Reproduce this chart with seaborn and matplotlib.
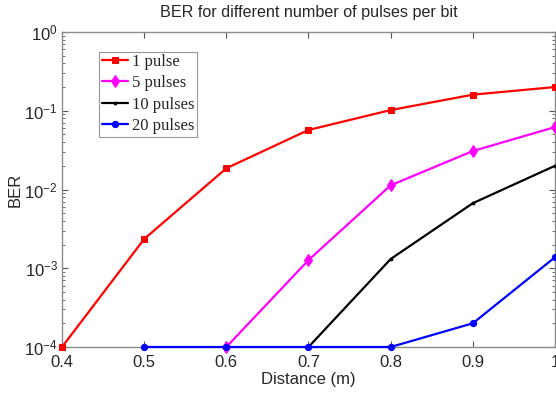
import matplotlib
matplotlib.use("Agg")
import matplotlib.pyplot as plt
import seaborn as sns
import pandas as pd
import numpy as np
from matplotlib.ticker import LogLocator, FixedLocator, FixedFormatter

distance = [0.4, 0.5, 0.6, 0.7, 0.8, 0.9, 1.0]
ber_1 = [1.0e-4, 2.35e-3, 1.86e-2, 5.7e-2, 1.02e-1, 1.6e-1, 2.0e-1]
dist_5 = [0.6, 0.7, 0.8, 0.9, 1.0]
ber_5 = [1.0e-4, 1.27e-3, 1.13e-2, 3.08e-2, 6.2e-2]
dist_10 = [0.7, 0.8, 0.9, 1.0]
ber_10 = [1.0e-4, 1.31e-3, 6.7e-3, 2.0e-2]
dist_20 = [0.5, 0.6, 0.7, 0.8, 0.9, 1.0]
ber_20 = [1.0e-4, 1.0e-4, 1.0e-4, 1.0e-4, 2.0e-4, 1.38e-3]
labels = ["1 pulse", "5 pulses", "10 pulses", "20 pulses"]
x_ticks = [0.4, 0.5, 0.6, 0.7, 0.8, 0.9, 1.0]
x_tick_labels = ["0.4", "0.5", "0.6", "0.7", "0.8", "0.9", "1"]

sns.set_style("white")
plt.rcParams['font.family'] = ['Liberation Sans', 'DejaVu Sans']
plt.rcParams['mathtext.default'] = 'regular'

df = pd.concat([
    pd.DataFrame({"Distance": distance, "BER": ber_1, "series": labels[0]}),
    pd.DataFrame({"Distance": dist_5, "BER": ber_5, "series": labels[1]}),
    pd.DataFrame({"Distance": dist_10, "BER": ber_10, "series": labels[2]}),
    pd.DataFrame({"Distance": dist_20, "BER": ber_20, "series": labels[3]}),
], ignore_index=True)

fig = plt.figure(figsize=(5.56, 3.93), dpi=100)
ax = fig.add_axes([62/556, 1-347/393, (555-62)/556, (347-32)/393])

colors = {labels[0]: "#ff0000", labels[1]: "#ff00ff", labels[2]: "#000000", labels[3]: "#0000ff"}
markers = {labels[0]: "s", labels[1]: "d", labels[2]: ".", labels[3]: "o"}
msizes = {labels[0]: 5, labels[1]: 6, labels[2]: 4, labels[3]: 4.5}

for lab in labels:
    sub = df[df.series == lab]
    sns.lineplot(data=sub, x="Distance", y="BER", ax=ax, color=colors[lab],
                 marker=markers[lab], markersize=msizes[lab], markeredgecolor=colors[lab],
                 linewidth=1.6, label=lab, clip_on=False, zorder=3)

ax.set_yscale("log")
ax.set_xlim(0.4, 1.0)
ax.set_ylim(1e-4, 1)
ax.xaxis.set_major_locator(FixedLocator(x_ticks))
ax.xaxis.set_major_formatter(FixedFormatter(x_tick_labels))
ax.yaxis.set_major_locator(LogLocator(base=10, numticks=10))
ax.yaxis.set_minor_locator(LogLocator(base=10, subs=np.arange(2, 10), numticks=10))

for s in ax.spines.values():
    s.set_color("#8c8c8c")
    s.set_linewidth(1.0)
    s.set_visible(True)
ax.tick_params(which="both", direction="in", top=True, right=True, bottom=True, left=True,
               color="#555555", labelsize=12, labelcolor="#262626")
ax.tick_params(which="major", length=4)
ax.tick_params(axis="x", which="major", pad=6)
ax.tick_params(axis="y", which="major", pad=3)
ax.tick_params(which="minor", length=2)

ax.set_xlabel("Distance (m)", fontsize=12, color="#262626", labelpad=1)
ax.set_ylabel("BER", fontsize=12, color="#262626", labelpad=1)
ax.set_title("BER for different number of pulses per bit", fontsize=11.6, color="#262626", pad=11)

leg = ax.legend(loc="upper left", bbox_to_anchor=((99-62)/493, 1-(51.5-32)/315),
                prop={"family": "Liberation Serif", "size": 12}, frameon=True,
                fancybox=False, edgecolor="#7f7f7f", handlelength=1.6, handletextpad=0.2,
                borderpad=0.15, labelspacing=0.32, borderaxespad=0)
leg.get_frame().set_linewidth(0.8)

fig.savefig("out.png", dpi=100)
